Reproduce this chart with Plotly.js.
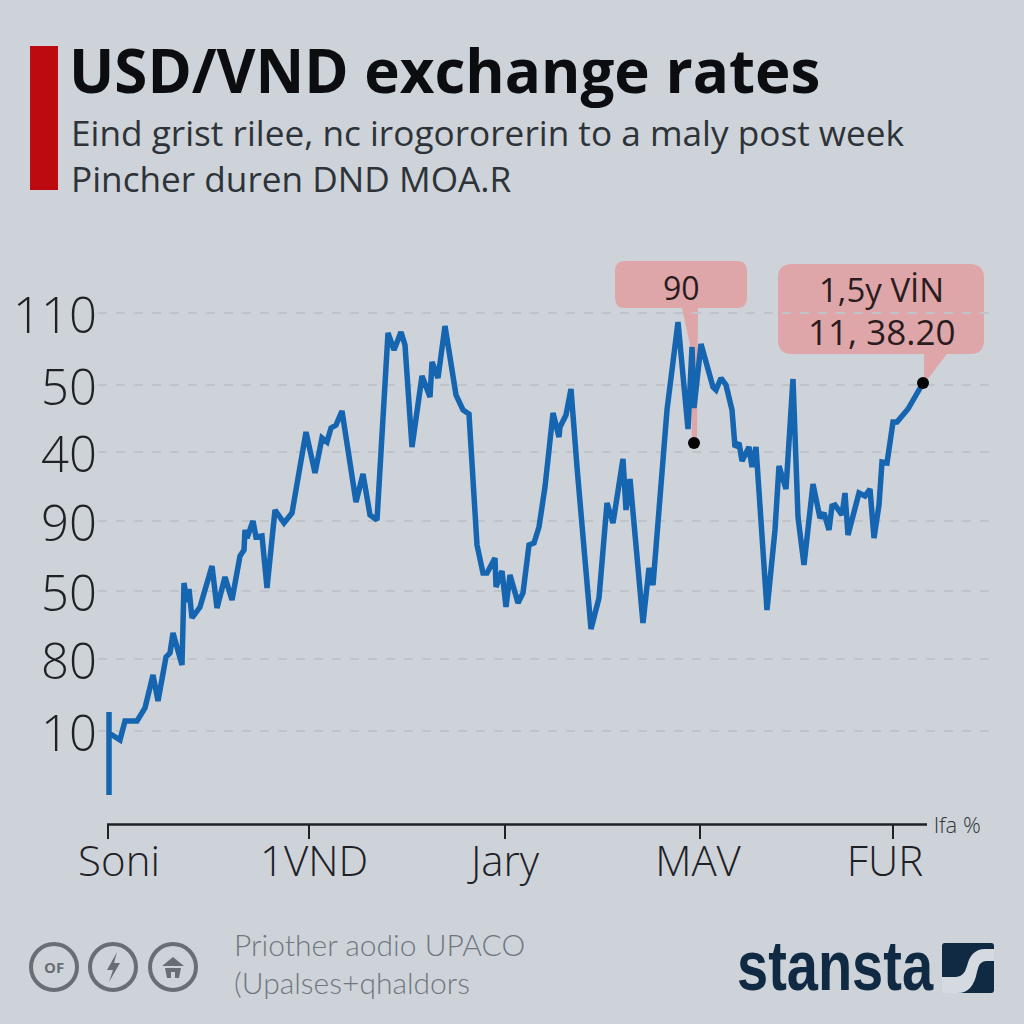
<!DOCTYPE html>
<html>
<head>
<meta charset="utf-8">
<script src="https://cdn.plot.ly/plotly-3.0.1.min.js"></script>
<style>html,body{margin:0;padding:0;background:#CED3D9}#chart{width:1024px;height:1024px}</style>
</head>
<body>
<div id="chart"></div>
<script>
// Data
const rateX = [1,1,1,12,17,29,37,45,50,58,62,65,74,76,79,81,84,92,104,109,117,124,132,136,137,139,145,148,154,159,167,176,184,198,207,214,219,223,228,234,248,255,262,269,280,286,293,297,304,314,322,324,330,337,348,355,361,369,375,379,387,388,394,398,402,410,415,421,426,431,437,445,451,452,458,463,469,483,491,499,505,515,518,522,535,541,545,559,567,570,580,584,586,593,605,608,613,618,624,627,631,634,641,644,648,659,667,671,678,685,690,696,705,712,716,721,724,727,734,737,740,749,751,757,762,766,771,774,779,785,789,800,815];
const rateY = [-60,23,2,-5,14,14,27,60,34,78,82,102,70,152,133,146,117,128,169,127,158,135,179,185,205,197,214,198,199,147,225,212,222,303,262,297,293,307,310,324,233,261,220,215,402,385,403,390,288,359,338,373,357,409,340,325,321,190,162,162,177,148,164,128,160,132,142,190,192,208,248,322,298,308,320,346,268,106,137,232,212,276,225,256,112,167,150,325,398,413,306,388,327,391,348,345,357,350,325,288,292,274,288,268,288,125,205,269,246,356,218,170,251,217,222,205,229,230,220,242,200,235,242,239,246,197,230,273,272,313,313,326,352];
const markerX = [586,815];
const markerY = [292,352];
const yTickVals = [422,350,283,214,144,76,4];
const yTickText = ['110','50','40','90','50','80','10'];
const xTickVals = [0,201,397,592,785];
const xLabelVals = [11,206,397,590,777];
const xTickText = ['Soni','1VND','Jary','MAV','FUR'];

const L=98,R=993,T=240,B=824;
const px=x=>(x-L)/(R-L), py=y=>(B-y)/(B-T);
const path=s=>s.replace(/([MLQC ])(-?[\d.]+),(-?[\d.]+)/g,(m,c,a,b)=>c+px(+a).toFixed(5)+','+py(+b).toFixed(5));
const pshape=(d,fill,extra)=>Object.assign({type:'path',xref:'paper',yref:'paper',path:path(d),fillcolor:fill,line:{width:0},layer:'below'},extra||{});
const rrect=(x0,y0,x1,y1,r)=>`M${x0+r},${y0} L${x1-r},${y0} Q${x1},${y0} ${x1},${y0+r} L${x1},${y1-r} Q${x1},${y1} ${x1-r},${y1} L${x0+r},${y1} Q${x0},${y1} ${x0},${y1-r} L${x0},${y0+r} Q${x0},${y0} ${x0+r},${y0} Z`;
const circle=(cx,cy,r)=>({type:'circle',xref:'paper',yref:'paper',x0:px(cx-r),x1:px(cx+r),y0:py(cy+r),y1:py(cy-r),line:{color:'#696E76',width:4},fillcolor:'rgba(0,0,0,0)',layer:'above'});
const note=(x,y,text,size,color,family,anchor,weight)=>({xref:'paper',yref:'paper',x:px(x),y:py(y),text,showarrow:false,xanchor:anchor||'left',align:anchor||'left',yanchor:'middle',font:{size,color,family:family||'Open Sans, sans-serif',weight:weight||400}});

const PINK='#DFA6A9', NAVY='#0F2A42';
const shapes=[
  {type:'rect',xref:'paper',yref:'paper',x0:px(30),x1:px(58),y0:py(190),y1:py(46),fillcolor:'#BC0A10',line:{width:0}},
  pshape(rrect(615,261,747,308,10),PINK),
  pshape('M682,308 L698,308 L697,443 L692,443 L690,345 Z',PINK),
  pshape(rrect(778,264,984,354,14),PINK),
  pshape('M924,354 L947,354 L924,384 Z',PINK),
  {type:'line',xref:'paper',yref:'paper',x0:px(107),x1:px(927),y0:py(824.5),y1:py(824.5),line:{color:'#1E2226',width:2.5},layer:'above'},
  circle(54,967,23),circle(113,967,23),circle(173,967,23),
  pshape('M117,952 L107,970 L113,970 L109,982 L120,963 L114,963 Z','#696E76',{layer:'above'}),
  pshape('M173,957 L184,966 L162,966 Z','#696E76',{layer:'above'}),
  pshape('M165,968 L181,968 L179,978 L175,978 L175,972 L171,972 L171,978 L167,978 Z','#696E76',{layer:'above'}),
  pshape(rrect(942,943,994,993,3),NAVY,{layer:'above'}),
  pshape('M942,977 L956,977 Q964,977 967,966 Q971,949 985,949 L994,949 L994,961 L986,961 Q979,961 977,972 Q973,993 958,993 L942,993 Z','#D5DAE0',{layer:'above'})
];
const annotations=[
  note(69,155,'Eind grist rilee, nc irogororerin to a maly post week<br>Pincher duren DND MOA.R',35.2,'#2D3338'),
  note(681,287,'90',32,'#2A1C1E','Open Sans, sans-serif','center'),
  note(881,289,'1,5y VİN',33,'#2A1C1E','Open Sans, sans-serif','center'),
  note(881,331,'11, 38.20',35,'#2A1C1E','Open Sans, sans-serif','center'),
  note(932,824,'lfa %',22,'#33373C','Open Sans, sans-serif','left',300),
  note(54,967,'OF',15,'#696E76','Open Sans, sans-serif','center',700),
  note(232,944,'Priother aodio UPACO',30,'#71777E','Lato, sans-serif','left',300),
  note(232,982,'(Upalses+qhaldors',30,'#71777E','Lato, sans-serif','left',300),
  note(735,966,'stansta',70,NAVY,'Liberation Sans, sans-serif','left',700)
];
const traces=[
  {x:rateX,y:rateY,type:'scatter',mode:'lines',line:{color:'#1565B0',width:5.5,shape:'linear'},hoverinfo:'skip',showlegend:false},
  {x:markerX,y:markerY,type:'scatter',mode:'markers',marker:{color:'#050505',size:12},hoverinfo:'skip',showlegend:false},
  {x:[xLabelVals[0]],y:[yTickVals[0]],xaxis:'x2',type:'scatter',mode:'markers',marker:{opacity:0,size:1},hoverinfo:'skip',showlegend:false}
];
const layout={
  width:1024,height:1024,
  paper_bgcolor:'#CED3D9',plot_bgcolor:'rgba(0,0,0,0)',
  margin:{l:L,r:1024-R,t:T,b:1024-B,pad:0},
  showlegend:false,
  title:{text:'<b>USD/VND exchange rates</b>',x:69/1024,xref:'container',xanchor:'left',y:1-72/1024,yref:'container',yanchor:'middle',font:{size:60,color:'#0B0D10',family:'Open Sans, sans-serif'}},
  xaxis:{range:[-10,885],tickvals:xTickVals,ticktext:xTickVals.map(()=>''),showticklabels:false,ticks:'outside',ticklen:14,tickwidth:2,tickcolor:'#1E2226',showgrid:false,zeroline:false,showline:false},
  xaxis2:{range:[-10,885],overlaying:'x',anchor:'y',side:'bottom',tickvals:xLabelVals,ticktext:xTickText,ticks:'outside',ticklen:1,tickcolor:'rgba(0,0,0,0)',showgrid:false,zeroline:false,showline:false,tickfont:{size:42,color:'#1E2226',family:'Open Sans, sans-serif',weight:300},tickangle:0},
  yaxis:{range:[-89,495],tickvals:yTickVals,ticktext:yTickText,ticklabelshift:3,ticks:'',showgrid:true,gridcolor:'#BFC4CA',griddash:'dash',gridwidth:1.8,zeroline:false,showline:false,tickfont:{size:49,color:'#1E2226',family:'Open Sans, sans-serif',weight:300}},
  shapes,annotations
};
Plotly.newPlot('chart',traces,layout,{displayModeBar:false,staticPlot:true}).then(()=>{
  // the wordmark is a condensed face; no condensed bold is installed, so narrow the real text
  document.querySelectorAll('.annotation-text').forEach(el=>{
    if(el.textContent==='stansta'){
      el.style.transformBox='fill-box';
      el.style.transformOrigin='left center';
      el.style.transform='scaleX(0.80)';
    }
  });
});
</script>
</body>
</html>
